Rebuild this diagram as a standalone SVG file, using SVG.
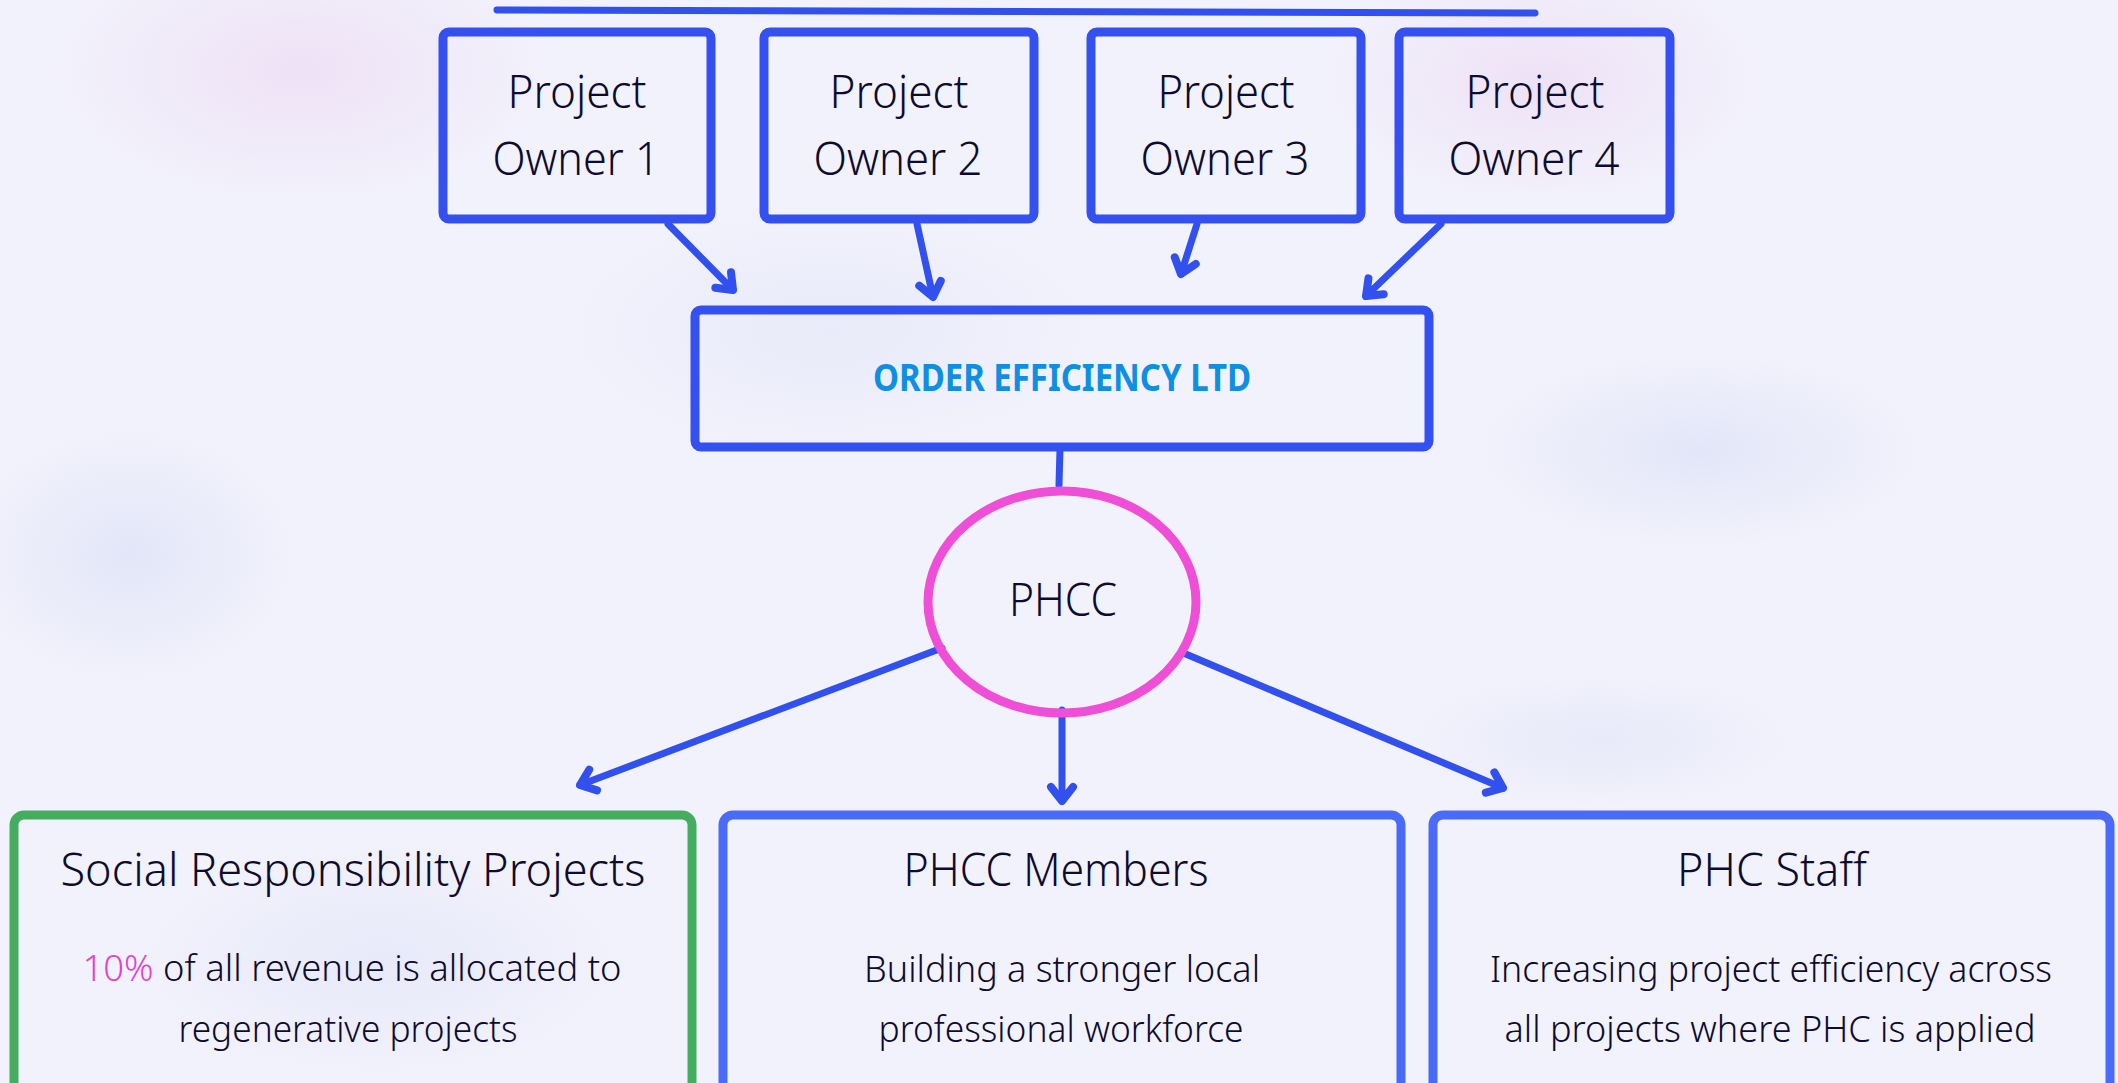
<svg xmlns="http://www.w3.org/2000/svg" width="2118" height="1083" viewBox="0 0 2118 1083">
<defs>
<radialGradient id="gPink" cx="50%" cy="50%" r="50%">
<stop offset="0" stop-color="#eee2f6" stop-opacity="1"/>
<stop offset="1" stop-color="#eee2f6" stop-opacity="0"/>
</radialGradient>
<radialGradient id="gBlue" cx="50%" cy="50%" r="50%">
<stop offset="0" stop-color="#e3e6f8" stop-opacity="1"/>
<stop offset="1" stop-color="#e3e6f8" stop-opacity="0"/>
</radialGradient>
<marker id="arr" markerUnits="userSpaceOnUse" viewBox="-20 -20 40 40" markerWidth="40" markerHeight="40" refX="0" refY="0" orient="auto" overflow="visible">
<path d="M-14,-11 L0,0 L-14,11" fill="none" stroke="#3150ee" stroke-width="8" stroke-linecap="round" stroke-linejoin="round"/>
</marker>
<style>
.box{fill:none;stroke:#3450f0;stroke-width:9}
.boxb{fill:none;stroke:#4a6af8;stroke-width:9}
.boxg{fill:none;stroke:#45ad60;stroke-width:9}
.t{font-family:"Noto Sans","Open Sans","DejaVu Sans",sans-serif;font-weight:350;fill:#0d0b2e;text-anchor:middle}
.t46{font-size:46px}
.t36{font-size:37px}
.oel{font-family:"Noto Sans","Open Sans",sans-serif;font-weight:bold;font-size:37px;fill:#0d8fe2;text-anchor:middle}
.c{fill:none;stroke:#3150ee;stroke-width:7;stroke-linecap:round}
.ca{fill:none;stroke:#3150ee;stroke-width:7;stroke-linecap:round;marker-end:url(#arr)}
</style>
</defs>
<rect width="2118" height="1083" fill="#f2f2fc"/>
<ellipse cx="300" cy="70" rx="260" ry="140" fill="url(#gPink)"/>
<ellipse cx="1540" cy="80" rx="230" ry="130" fill="url(#gPink)"/>
<ellipse cx="130" cy="555" rx="170" ry="130" fill="url(#gBlue)"/>
<ellipse cx="1700" cy="450" rx="230" ry="100" fill="url(#gBlue)"/>
<ellipse cx="830" cy="330" rx="280" ry="130" fill="url(#gBlue)" opacity="0.6"/>
<ellipse cx="380" cy="960" rx="250" ry="120" fill="url(#gBlue)" opacity="0.7"/>
<ellipse cx="1600" cy="740" rx="200" ry="70" fill="url(#gBlue)" opacity="0.7"/>

<g id="connectors">
<line class="c" x1="497" y1="10" x2="1535" y2="13"/>
<line class="ca" x1="668" y1="224" x2="733" y2="290"/>
<line class="ca" x1="917" y1="224" x2="933" y2="297"/>
<line class="ca" x1="1197" y1="224" x2="1181" y2="274"/>
<line class="ca" x1="1441" y1="224" x2="1366" y2="296"/>
<line class="c" x1="1060" y1="449" x2="1059" y2="485"/>
<line class="ca" x1="942" y1="648" x2="580" y2="785"/>
<line class="ca" x1="1062" y1="710" x2="1062" y2="801"/>
<line class="ca" x1="1181" y1="652" x2="1503" y2="788"/>
</g>

<g id="po1">
<rect class="box" x="443" y="32" width="268" height="187" rx="6"/>
<text class="t t46" x="577" y="108" textLength="139" lengthAdjust="spacingAndGlyphs">Project</text>
<text class="t t46" x="576" y="175" textLength="167" lengthAdjust="spacingAndGlyphs">Owner 1</text>
</g>
<g id="po2">
<rect class="box" x="764" y="32" width="270" height="187" rx="6"/>
<text class="t t46" x="899" y="108" textLength="139" lengthAdjust="spacingAndGlyphs">Project</text>
<text class="t t46" x="898" y="175" textLength="169" lengthAdjust="spacingAndGlyphs">Owner 2</text>
</g>
<g id="po3">
<rect class="box" x="1091" y="32" width="270" height="187" rx="6"/>
<text class="t t46" x="1226" y="108" textLength="137" lengthAdjust="spacingAndGlyphs">Project</text>
<text class="t t46" x="1225" y="175" textLength="169" lengthAdjust="spacingAndGlyphs">Owner 3</text>
</g>
<g id="po4">
<rect class="box" x="1399" y="32" width="271" height="187" rx="6"/>
<text class="t t46" x="1535" y="108" textLength="139" lengthAdjust="spacingAndGlyphs">Project</text>
<text class="t t46" x="1534" y="175" textLength="171" lengthAdjust="spacingAndGlyphs">Owner 4</text>
</g>

<g id="oel">
<rect class="box" x="695" y="310" width="734" height="137" rx="6"/>
<text class="oel" x="1062" y="391" textLength="378" lengthAdjust="spacingAndGlyphs">ORDER EFFICIENCY LTD</text>
</g>

<g id="phcc">
<ellipse cx="1062" cy="602" rx="134" ry="111" fill="none" stroke="#ef4fd6" stroke-width="9"/>
<text class="t t46" x="1063" y="616" textLength="108" lengthAdjust="spacingAndGlyphs">PHCC</text>
</g>

<g id="srp">
<rect class="boxg" x="14" y="815" width="678" height="280" rx="10"/>
<text class="t t46" x="353" y="886" textLength="585" lengthAdjust="spacingAndGlyphs">Social Responsibility Projects</text>
<text class="t t36" x="352" y="981" textLength="539" lengthAdjust="spacingAndGlyphs"><tspan fill="#e142cc">10%</tspan> of all revenue is allocated to</text>
<text class="t t36" x="348" y="1042" textLength="339" lengthAdjust="spacingAndGlyphs">regenerative projects</text>
</g>

<g id="members">
<rect class="boxb" x="723" y="815" width="678" height="280" rx="10"/>
<text class="t t46" x="1056" y="886" textLength="305" lengthAdjust="spacingAndGlyphs">PHCC Members</text>
<text class="t t36" x="1062" y="982" textLength="396" lengthAdjust="spacingAndGlyphs">Building a stronger local</text>
<text class="t t36" x="1061" y="1042" textLength="365" lengthAdjust="spacingAndGlyphs">professional workforce</text>
</g>

<g id="staff">
<rect class="boxb" x="1433" y="815" width="677" height="280" rx="10"/>
<text class="t t46" x="1772" y="886" textLength="190" lengthAdjust="spacingAndGlyphs">PHC Staff</text>
<text class="t t36" x="1771" y="982" textLength="562" lengthAdjust="spacingAndGlyphs">Increasing project efficiency across</text>
<text class="t t36" x="1770" y="1042" textLength="531" lengthAdjust="spacingAndGlyphs">all projects where PHC is applied</text>
</g>
</svg>
